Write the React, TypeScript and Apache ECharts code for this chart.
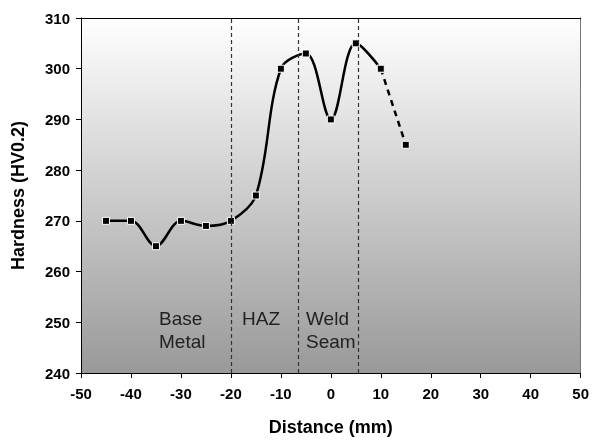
import React, { useEffect, useRef } from "react";
import * as echarts from "echarts";

const distances = [-45, -40, -35, -30, -25, -20, -15, -10, -5, 0, 5, 10, 15];
const hardness = [270, 270, 265, 270, 269, 270, 275, 300, 303, 290, 305, 300, 285];
const boundaries = [-20, -6.5, 5.5];
const regionLabels = ["Base\nMetal", "HAZ", "Weld\nSeam"];
const xTitle = "Distance (mm)";
const yTitle = "Hardness (HV0.2)";

const FONT = "'Liberation Sans', Arial, Helvetica, sans-serif";

export default function App() {
  const ref = useRef<HTMLDivElement>(null);
  useEffect(() => {
    if (!ref.current) return;
    const chart = echarts.init(ref.current, undefined, { renderer: "svg" });
    const pts = distances.map((d, i) => [d, hardness[i]]);
    const solid = pts.slice(0, pts.length - 1);
    const dashed = pts.slice(pts.length - 2);
    const marker = {
      symbol: "rect",
      symbolSize: 7,
      itemStyle: { color: "#000", borderColor: "#fff", borderWidth: 1 },
    };
    chart.setOption({
      animation: false,
      grid: {
        left: 81,
        right: 9,
        top: 18,
        bottom: 65,
        show: true,
        borderWidth: 0,
        backgroundColor: new echarts.graphic.LinearGradient(0, 0, 0, 1, [
          { offset: 0, color: "#ffffff" },
          { offset: 1, color: "#999999" },
        ]),
      },
      xAxis: [
        {
          type: "value",
          min: -50,
          max: 50,
          interval: 10,
          position: "bottom",
          name: xTitle,
          nameLocation: "middle",
          nameGap: 45,
          nameTextStyle: { fontFamily: FONT, fontWeight: "bold", fontSize: 18, color: "#000" },
          axisLine: { show: true, onZero: false, lineStyle: { color: "#000", width: 1 } },
          axisTick: { show: true, length: 5, inside: false, lineStyle: { color: "#000" } },
          axisLabel: { fontFamily: FONT, fontWeight: "bold", fontSize: 15, color: "#000", margin: 13 },
          splitLine: { show: false },
        },
        {
          type: "value",
          min: -50,
          max: 50,
          position: "top",
          axisLine: { show: true, onZero: false, lineStyle: { color: "#000", width: 1 } },
          axisTick: { show: false },
          axisLabel: { show: false },
          splitLine: { show: false },
        },
      ],
      yAxis: [
        {
          type: "value",
          min: 240,
          max: 310,
          interval: 10,
          position: "left",
          name: yTitle,
          nameLocation: "middle",
          nameGap: 54,
          nameTextStyle: { fontFamily: FONT, fontWeight: "bold", fontSize: 18, color: "#000" },
          axisLine: { show: true, onZero: false, lineStyle: { color: "#000", width: 1 } },
          axisTick: { show: true, length: 5, inside: false, lineStyle: { color: "#000" } },
          axisLabel: { fontFamily: FONT, fontWeight: "bold", fontSize: 15, color: "#000", margin: 11 },
          splitLine: { show: false },
        },
        {
          type: "value",
          min: 240,
          max: 310,
          position: "right",
          axisLine: { show: true, onZero: false, lineStyle: { color: "#777", width: 1 } },
          axisTick: { show: false },
          axisLabel: { show: false },
          splitLine: { show: false },
        },
      ],
      series: [
        {
          type: "line",
          data: solid,
          smooth: 0.35,
          lineStyle: { color: "#000", width: 2.5 },
          ...marker,
          z: 3,
          markLine: {
            silent: true,
            symbol: ["none", "none"],
            label: { show: false },
            lineStyle: { color: "#333", type: [4, 3], width: 1.2 },
            data: boundaries.map((b) => ({ xAxis: b })),
          },
        },
        {
          type: "line",
          data: dashed,
          lineStyle: { color: "#000", width: 2.5, type: [6, 5] },
          ...marker,
          z: 3,
        },
      ],
      graphic: [
        {
          type: "text",
          x: 159,
          y: 307,
          style: { text: regionLabels[0], font: `19px ${FONT}`, fill: "#222", lineHeight: 23 },
        },
        {
          type: "text",
          x: 242,
          y: 307,
          style: { text: regionLabels[1], font: `19px ${FONT}`, fill: "#222", lineHeight: 23 },
        },
        {
          type: "text",
          x: 306,
          y: 307,
          style: { text: regionLabels[2], font: `19px ${FONT}`, fill: "#222", lineHeight: 23 },
        },
      ],
    });
    return () => chart.dispose();
  }, []);
  return (
    <div
      ref={ref}
      style={{ position: "fixed", left: 0, top: 0, width: 592, height: 441 }}
    />
  );
}
